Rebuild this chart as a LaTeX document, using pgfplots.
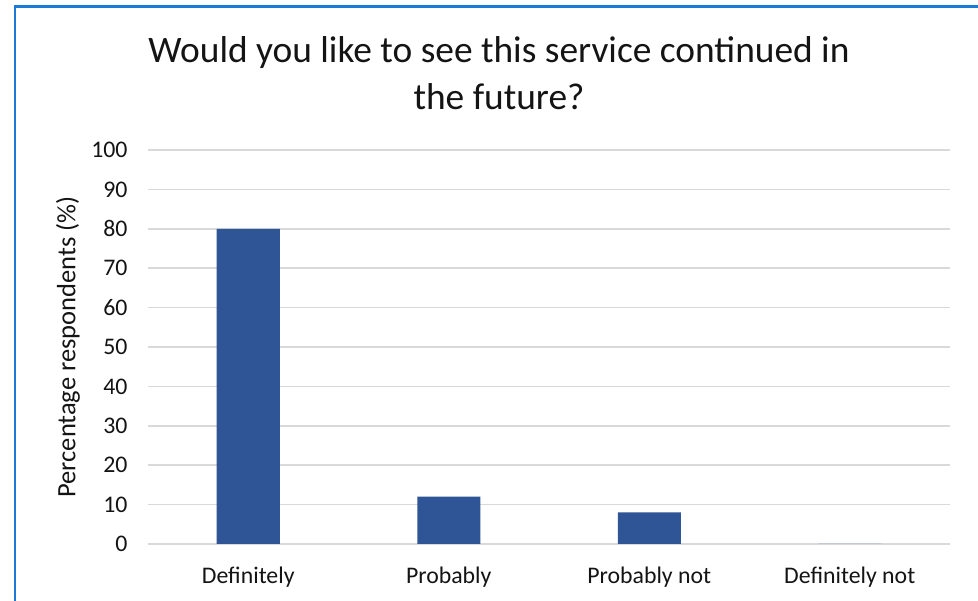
\documentclass[border=0pt]{standalone}
\usepackage{pgfplots}
\pgfplotsset{compat=1.18}
\usepackage{fontspec}
\setmainfont{Carlito}
\definecolor{barblue}{HTML}{2F5597}
\definecolor{gridgray}{HTML}{D9D9D9}
\definecolor{frameblue}{HTML}{1A7AD4}
\begin{document}
\begin{tikzpicture}[x=1pt,y=1pt]
\path[use as bounding box] (0,0) rectangle (978,601);
\fill[white] (0,0) rectangle (978,601);
\draw[frameblue, line width=2.5pt] (15,0) -- (15,594.5) -- (978,594.5);
\node[align=center, text=black!92, font=\fontsize{37.4}{47}\selectfont] at (499,528) {Would you like to see this service continued in\\the future?};
\begin{axis}[
  at={(148pt,57pt)}, anchor=south west,
  scale only axis, width=802pt, height=394pt,
  xmin=-0.5, xmax=3.5, ymin=0, ymax=100,
  ytick={0,10,...,100},
  xtick={0,1,2,3},
  xticklabels={Definitely, Probably, Probably not, Definitely not},
  ymajorgrids, grid style={gridgray, line width=1.5pt},
  axis line style={draw=none},
  major tick length=0pt,
  /pgf/number format/assume math mode=true,
  tick label style={font=\fontsize{23.8}{28}\selectfont, text=black!92},
  yticklabel style={xshift=-17pt},
  xticklabel style={yshift=-19pt},
  ylabel={Percentage respondents (\%)},
  ylabel style={at={(axis description cs:-0.09975,0.5)}, anchor=center, text=black!92, font=\fontsize{26.5}{30}\selectfont},
  clip=false,
]
\addplot[ybar, bar width=63pt, fill=barblue, draw=none] coordinates {(0,80) (1,12) (2,8) (3,0)};
\end{axis}
\end{tikzpicture}
\end{document}
